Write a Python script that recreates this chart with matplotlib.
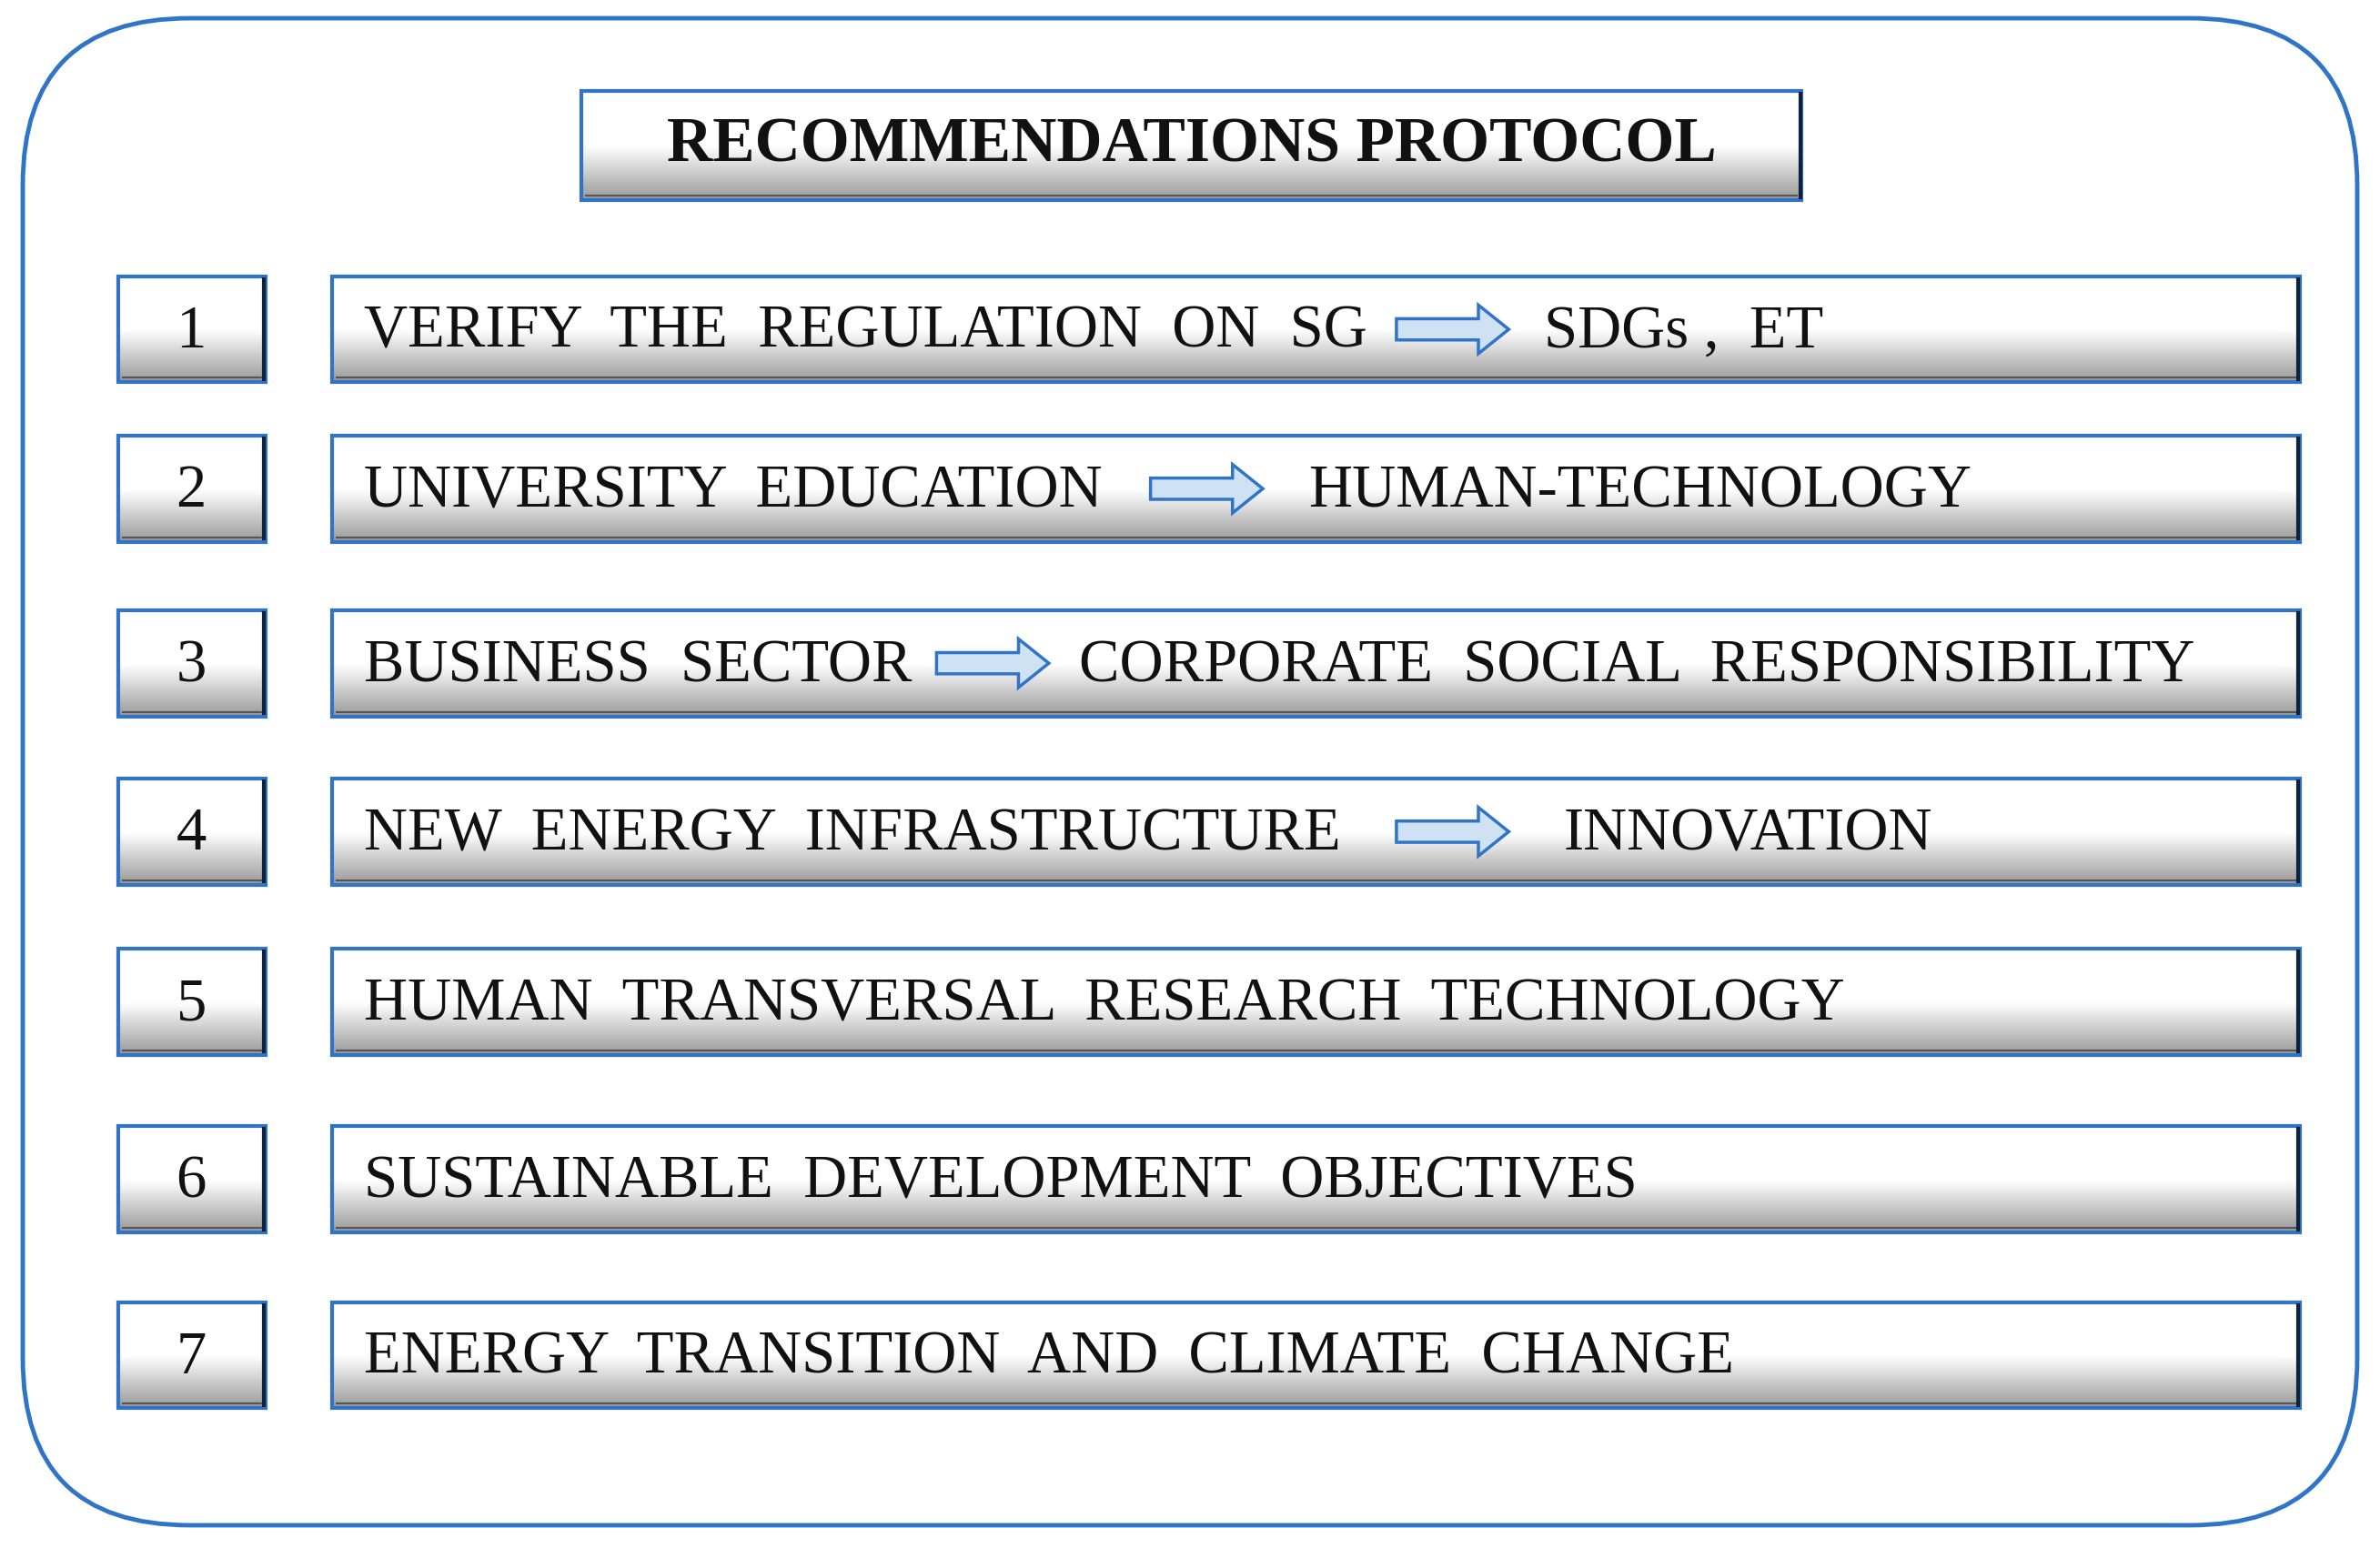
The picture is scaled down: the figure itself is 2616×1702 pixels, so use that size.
import numpy as np
import matplotlib
matplotlib.use('Agg')
import matplotlib.pyplot as plt
from matplotlib.patches import FancyBboxPatch, Rectangle, FancyArrow

title = "RECOMMENDATIONS PROTOCOL"
numbers = ["1", "2", "3", "4", "5", "6", "7"]
left_texts = [
    "VERIFY  THE  REGULATION  ON  SG",
    "UNIVERSITY  EDUCATION",
    "BUSINESS  SECTOR",
    "NEW  ENERGY  INFRASTRUCTURE",
    "HUMAN  TRANSVERSAL  RESEARCH  TECHNOLOGY",
    "SUSTAINABLE  DEVELOPMENT  OBJECTIVES",
    "ENERGY  TRANSITION  AND  CLIMATE  CHANGE",
]
right_texts = ["SDGs ,  ET", "HUMAN-TECHNOLOGY", "CORPORATE  SOCIAL  RESPONSIBILITY",
               "INNOVATION", None, None, None]

# layout (in reference display units, 1568 x 1020)
row_top = [182, 287, 402, 513, 625, 742, 858]
row_h = 70
arrow_x = [920, 758, 617, 920, None, None, None]
right_x = [1017, 862, 711, 1030, None, None, None]

BLUE = "#2f74c8"
W, H = 1568, 1020
FS = 48

fig = plt.figure(figsize=(26.16, 17.02), dpi=100)
ax = fig.add_axes([0, 0, 1, 1])
ax.set_xlim(0, W)
ax.set_ylim(H, 0)
ax.axis("off")

FONT = dict(family="Liberation Serif", color="#111111")
grad = np.concatenate([np.ones((50, 1)), np.linspace(1, 0, 50).reshape(-1, 1)])


def bevel_box(x0, y0, x1, y1):
    # gradient white -> gray
    ax.imshow(0.6 + 0.4 * grad, cmap="gray", vmin=0, vmax=1, aspect="auto",
              extent=(x0, x1, y1, y0), zorder=1, interpolation="bilinear")
    ax.add_patch(Rectangle((x0, y0), x1 - x0, y1 - y0, fill=False,
                           edgecolor=BLUE, lw=3, zorder=3))
    ax.plot([x1 - 1, x1 - 1], [y0 + 2, y1 - 2], color="#10223a", lw=3, zorder=4)
    ax.plot([x0 + 3, x1 - 3], [y1 - 3, y1 - 3], color="#555555", lw=1.5, zorder=2)


outer = FancyBboxPatch((15, 12), 1538, 993, boxstyle="round,pad=0,rounding_size=110",
                       fill=False, edgecolor=BLUE, lw=3.5, zorder=0)
ax.add_patch(outer)

bevel_box(383, 60, 1187, 132)
ax.text(785, 96, title, ha="center", va="center", fontsize=50, fontweight="bold", **FONT)

for i in range(len(numbers)):
    y0 = row_top[i]
    y1 = y0 + row_h
    yc = (y0 + y1) / 2
    bevel_box(78, y0, 175, y1)
    ax.text(126, yc + 2, numbers[i], ha="center", va="center", fontsize=FS, **FONT)
    bevel_box(219, y0, 1515, y1)
    ax.text(240, yc + 2, left_texts[i], ha="left", va="center", fontsize=FS, **FONT)
    if arrow_x[i] is not None:
        ax.add_patch(FancyArrow(arrow_x[i], yc, 74, 0, width=14, head_width=32,
                                head_length=20, length_includes_head=True,
                                facecolor="#cfe2f3", edgecolor=BLUE, lw=2.5, zorder=5))
        ax.text(right_x[i], yc + 2, right_texts[i], ha="left", va="center",
                fontsize=FS, **FONT)

fig.savefig("out.png", dpi=100)
